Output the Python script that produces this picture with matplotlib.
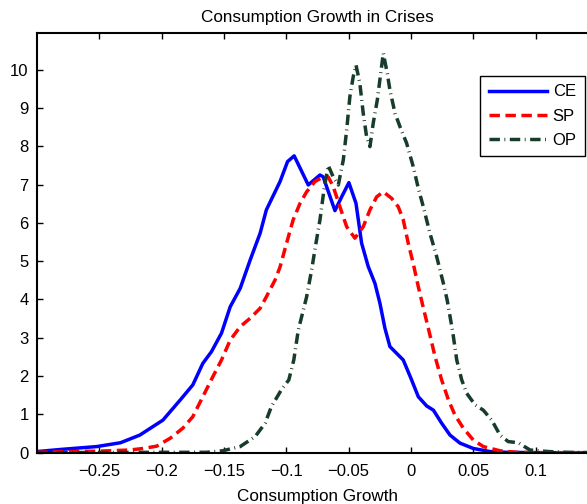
import matplotlib
matplotlib.use('Agg')
import matplotlib.pyplot as plt

plt.rcParams['font.family'] = ['Liberation Sans', 'DejaVu Sans']

# CE curve
ce_x = [-0.30, -0.279, -0.252, -0.233, -0.2175, -0.199, -0.185, -0.175, -0.167, -0.160,
        -0.152, -0.145, -0.137, -0.129, -0.121, -0.116, -0.105, -0.099, -0.0937, -0.0824,
        -0.073, -0.0704, -0.061, -0.0556, -0.0498, -0.0441, -0.0396, -0.0343, -0.0289, -0.0249,
        -0.0209, -0.0169, -0.0062, 0.0, 0.0059, 0.0126, 0.018, 0.0246, 0.0313, 0.0393,
        0.05, 0.0634, 0.077, 0.10, 0.15]
ce_y = [0.03, 0.09, 0.16, 0.26, 0.46, 0.85, 1.38, 1.77, 2.33, 2.64,
        3.12, 3.81, 4.29, 5.03, 5.73, 6.34, 7.08, 7.6, 7.75, 6.99,
        7.25, 7.2, 6.32, 6.68, 7.05, 6.51, 5.47, 4.86, 4.42, 3.9,
        3.25, 2.77, 2.42, 1.94, 1.46, 1.22, 1.11, 0.77, 0.46, 0.25,
        0.11, 0.03, 0.01, 0.0, 0.0]

# SP curve
sp_x = [-0.30, -0.274, -0.25, -0.2255, -0.215, -0.204, -0.193, -0.183, -0.175, -0.167,
        -0.159, -0.152, -0.145, -0.137, -0.129, -0.121, -0.116, -0.109, -0.105, -0.0998,
        -0.0945, -0.089, -0.0837, -0.077, -0.0704, -0.0664, -0.0624, -0.057, -0.0516, -0.045,
        -0.0383, -0.0329, -0.0275, -0.0222, -0.0155, -0.0102, -0.0062, -0.0022, 0.0018, 0.0059,
        0.0099, 0.0139, 0.0193, 0.0246, 0.030, 0.0353, 0.042, 0.050, 0.058, 0.0714,
        0.085, 0.11, 0.15]
sp_y = [0.01, 0.03, 0.04, 0.07, 0.11, 0.17, 0.38, 0.64, 0.94, 1.46,
        1.98, 2.42, 2.94, 3.29, 3.51, 3.77, 4.07, 4.51, 4.85, 5.47,
        6.08, 6.51, 6.81, 7.08, 7.2, 7.2, 6.95, 6.42, 5.9, 5.6,
        5.9, 6.34, 6.68, 6.81, 6.64, 6.42, 6.08, 5.47, 4.94, 4.33,
        3.78, 3.25, 2.51, 1.9, 1.38, 0.98, 0.64, 0.33, 0.16, 0.05,
        0.01, 0.0, 0.0]

# OP curve
op_x = [-0.30, -0.20, -0.164, -0.151, -0.137, -0.125, -0.117, -0.112, -0.104, -0.098,
        -0.094, -0.0904, -0.0837, -0.0797, -0.0762, -0.073, -0.0698, -0.0664, -0.0624, -0.0583,
        -0.0543, -0.0516, -0.049, -0.0463, -0.0441, -0.041, -0.0383, -0.0356, -0.0329, -0.0303,
        -0.027, -0.0243, -0.0222, -0.019, -0.0169, -0.0128, -0.0088, -0.0035, 0.0018, 0.0059,
        0.0099, 0.0152, 0.0206, 0.026, 0.029, 0.0335, 0.0367, 0.0407, 0.0447, 0.0514,
        0.058, 0.0648, 0.0714, 0.078, 0.086, 0.0955, 0.11, 0.125, 0.15]
op_y = [0.0, 0.01, 0.01, 0.05, 0.16, 0.42, 0.77, 1.2, 1.64, 1.9,
        2.42, 3.2, 4.07, 4.77, 5.47, 6.08, 6.86, 7.5, 7.2, 6.99,
        7.64, 8.42, 9.3, 9.82, 10.12, 9.64, 8.86, 8.25, 7.99, 8.6,
        9.21, 9.9, 10.43, 9.9, 9.47, 8.86, 8.51, 8.08, 7.47, 6.9,
        6.42, 5.73, 5.12, 4.42, 3.99, 3.15, 2.42, 1.9, 1.55, 1.25,
        1.11, 0.85, 0.46, 0.29, 0.26, 0.07, 0.03, 0.01, 0.0]

x_ticks = [-0.25, -0.2, -0.15, -0.1, -0.05, 0, 0.05, 0.1]
x_tick_labels = ['\u22120.25', '\u22120.2', '\u22120.15', '\u22120.1', '\u22120.05', '0', '0.05', '0.1']
y_ticks = list(range(0, 11))

fig = plt.figure(figsize=(5.87, 5.04), dpi=100)
# axes run past the right edge of the figure, like the cropped original
ax = fig.add_axes([0.063, 0.1018, 1.0187 - 0.063, 0.934 - 0.1018])

ax.plot(ce_x, ce_y, color='#0000ff', lw=2.5, label='CE')
ax.plot(sp_x, sp_y, color='#ff0000', lw=2.5, dashes=(3, 1.6), label='SP')
ax.plot(op_x, op_y, color='#173d2a', lw=2.5, dashes=(3.0, 1.3, 0.25, 1.3), label='OP')

ax.set_xlim(-0.3, 0.15)
ax.set_ylim(0, 10.95)
ax.set_xticks(x_ticks)
ax.set_xticklabels(x_tick_labels)
ax.set_yticks(y_ticks)
ax.tick_params(direction='in', top=True, right=True, length=4, width=1,
               labelsize=12)
ax.tick_params(axis='x', pad=8)
ax.tick_params(axis='y', pad=6)
for s in ax.spines.values():
    s.set_linewidth(1.5)

ax.set_title('Consumption Growth in Crises', fontsize=12.3, pad=8)
ax.set_xlabel('Consumption Growth', fontsize=12.3, labelpad=7)

leg = ax.legend(loc='upper right', bbox_to_anchor=(0.9966, 0.849),
                bbox_transform=fig.transFigure, borderaxespad=0,
                fontsize=12, handlelength=3.5, handletextpad=0.35,
                fancybox=False, edgecolor='black', framealpha=1,
                borderpad=0.5, labelspacing=0.55)
leg.get_frame().set_linewidth(1)

fig.savefig('out.png', dpi=100)
